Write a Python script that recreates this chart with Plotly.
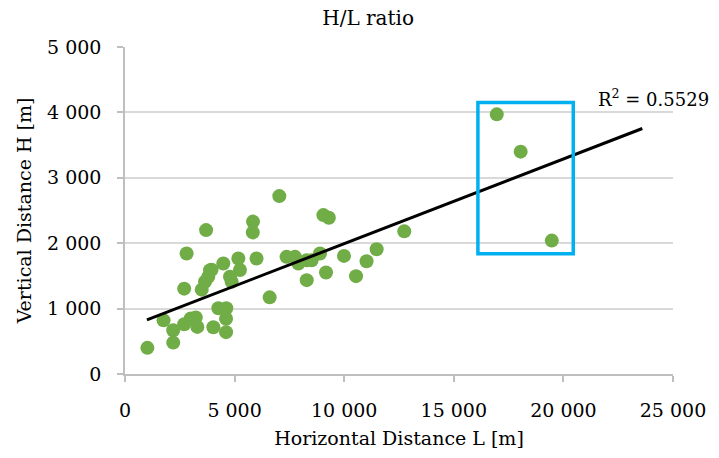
import plotly.graph_objects as go

# Data
L_m = [1020, 1760, 2200, 2200, 2700, 2700, 2810, 3000, 3230, 3300,
       3500, 3650, 3700, 3800, 3880, 3950, 4030, 4260, 4485, 4620,
       4610, 4610, 4790, 4865, 5170, 5245, 5840, 5830, 6000, 6600,
       7040, 7370, 7755, 7910, 8290, 8290, 8515, 8895, 9050, 9300,
       9170, 9990, 10540, 11020, 11480, 12740, 16960, 18050, 19470]
H_m = [400, 820, 670, 480, 760, 1305, 1842, 850, 865, 720,
       1290, 1411, 2200, 1487, 1588, 1595, 715, 1005, 1690, 1005,
       845, 640, 1487, 1411, 1766, 1590, 2330, 2165, 1766, 1172,
       2720, 1791, 1791, 1690, 1740, 1435, 1740, 1842, 2430, 2390,
       1552, 1806, 1496, 1725, 1908, 2181, 3970, 3400, 2040]

# Linear trendline as drawn in the reference
trend_slope = 0.1295
trend_intercept = 698
trend_x = [1000, 23600]
r2_label = "R<sup>2</sup> = 0.5529"

# Highlighted outlier box
box_x = [16100, 20450]
box_y = [1840, 4150]

x_ticks = [0, 5000, 10000, 15000, 20000, 25000]
y_ticks = [0, 1000, 2000, 3000, 4000, 5000]

FONT = "DejaVu Serif"
GREEN = "#70AD47"
GRID = "#D9D9D9"
AXIS = "#BFBFBF"

trend_y = [trend_slope * x + trend_intercept for x in trend_x]

fig = go.Figure()
fig.add_trace(go.Scatter(
    x=L_m, y=H_m, mode="markers",
    marker=dict(color=GREEN, size=14, line=dict(width=0)),
    showlegend=False, hoverinfo="x+y"))
fig.add_trace(go.Scatter(
    x=trend_x, y=trend_y, mode="lines",
    line=dict(color="black", width=3),
    showlegend=False, hoverinfo="skip"))

fig.add_shape(type="rect", xref="x", yref="y",
              x0=box_x[0], x1=box_x[1], y0=box_y[0], y1=box_y[1],
              line=dict(color="#00B0F0", width=3.5), fillcolor="rgba(0,0,0,0)")

fig.add_annotation(x=21500, y=4220, xref="x", yref="y", text=r2_label,
                   showarrow=False, xanchor="left", yanchor="middle",
                   font=dict(family=FONT, size=18, color="black"))

fig.update_layout(
    width=719, height=458,
    margin=dict(l=125, r=46, t=47, b=82),
    paper_bgcolor="white", plot_bgcolor="white",
    separators=". ",
    font=dict(family=FONT, size=19, color="black"),
    title=dict(text="H/L ratio", x=0.512, xanchor="center", y=0.96, yanchor="middle",
               font=dict(family=FONT, size=20, color="black")),
    xaxis=dict(range=[0, 25000], tickvals=x_ticks, tickformat=",d",
               showgrid=False, zeroline=False,
               showline=True, linecolor=AXIS, linewidth=1.5,
               ticks="outside", ticklen=6, tickcolor=AXIS, tickwidth=1.5,
               ticklabelstandoff=12,
               tickfont=dict(family=FONT, size=19),
               title=dict(text="Horizontal Distance L [m]", standoff=12,
                          font=dict(family=FONT, size=19))),
    yaxis=dict(range=[0, 5000], tickvals=y_ticks, tickformat=",d",
               showgrid=True, gridcolor=GRID, gridwidth=1.5, zeroline=False,
               showline=True, linecolor=AXIS, linewidth=1.5,
               ticks="outside", ticklen=6, tickcolor=AXIS, tickwidth=1.5,
               ticklabelstandoff=12,
               tickfont=dict(family=FONT, size=19),
               title=dict(text="Vertical Distance H [m]", standoff=10,
                          font=dict(family=FONT, size=19))),
)

fig.write_html("out.html")
